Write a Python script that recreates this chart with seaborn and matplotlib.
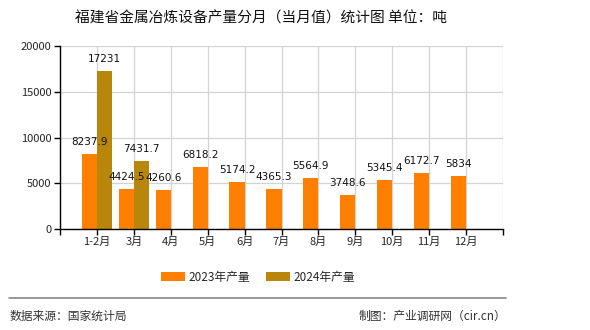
import numpy as np
import pandas as pd
import matplotlib
matplotlib.use("Agg")
import matplotlib.pyplot as plt
import seaborn as sns

months = ["1-2月", "3月", "4月", "5月", "6月", "7月", "8月", "9月", "10月", "11月", "12月"]
v2023 = [8237.9, 4424.5, 4260.6, 6818.2, 5174.2, 4365.3, 5564.9, 3748.6, 5345.4, 6172.7, 5834]
v2024 = [17231, 7431.7, np.nan, np.nan, np.nan, np.nan, np.nan, np.nan, np.nan, np.nan, np.nan]
series = ["2023年产量", "2024年产量"]
colors = ["#FF8000", "#B8860B"]
yticks = [0, 5000, 10000, 15000, 20000]

sns.set_style("white")
plt.rcParams["font.family"] = ["Noto Sans CJK SC", "DejaVu Sans"]

df = pd.DataFrame({
    "月份": months * 2,
    "产量": v2023 + v2024,
    "系列": [series[0]] * len(months) + [series[1]] * len(months),
})

fig = plt.figure(figsize=(5.9, 3.3), dpi=100)
ax = fig.add_axes([60 / 590, 1 - 229 / 330, (503 - 60) / 590, (229 - 46) / 330])

sns.barplot(data=df, x="月份", y="产量", hue="系列", order=months, hue_order=series,
            palette=colors, width=0.82, saturation=1, linewidth=0, edgecolor="none",
            ax=ax, legend=True)

for cont in ax.containers:
    for bar in cont:
        if bar is None:
            continue
        h = bar.get_height()
        if h is None or np.isnan(h):
            continue
        ax.annotate(f"{h:g}", (bar.get_x() + bar.get_width() / 2, h),
                    xytext=(0, 5), textcoords="offset points", ha="center", va="bottom",
                    fontsize=7.5, color="#111111", family=["DejaVu Sans"])

ax.set_xlim(-1, len(months))
ax.set_ylim(0, 20000)
ax.set_xticks(range(-1, len(months) + 1))
ax.set_xticklabels([""] + months + [""], fontsize=8)
ax.set_yticks(yticks)
ax.set_yticklabels([str(t) for t in yticks], fontsize=8)
ax.set_xlabel("")
ax.set_ylabel("")
ax.grid(True, color="#d3d3d3", linewidth=0.9)
ax.set_axisbelow(True)
for s in ["top", "right"]:
    ax.spines[s].set_visible(False)
for s in ["left", "bottom"]:
    ax.spines[s].set_color("#000000")
    ax.spines[s].set_linewidth(1)
ax.tick_params(axis="both", direction="out", length=4, width=1, color="#000000", pad=2)
ax.tick_params(axis="both", left=True, bottom=True)

handles, labels = ax.get_legend_handles_labels()
ax.legend(handles, labels, loc="center", bbox_to_anchor=(258 / 590, 1 - 277 / 330),
          bbox_transform=fig.transFigure, ncol=2, frameon=False, fontsize=8.5,
          handlelength=2.0, handleheight=0.9, columnspacing=1.4, handletextpad=0.3)

fig.text(261 / 590, 1 - 18 / 330, "福建省金属冶炼设备产量分月（当月值）统计图 单位：吨",
         ha="center", va="center", fontsize=10.6, color="#111111")
fig.add_artist(plt.Line2D([9 / 590, 506 / 590], [1 - 298 / 330, 1 - 298 / 330],
                          transform=fig.transFigure, color="#888888", linewidth=1.2))
fig.text(10 / 590, 1 - 316 / 330, "数据来源：国家统计局", ha="left", va="center",
         fontsize=8.5, color="#333333")
fig.text(506 / 590, 1 - 316 / 330, "制图：产业调研网（cir.cn）", ha="right", va="center",
         fontsize=8.5, color="#333333")

fig.savefig("out.png", dpi=100)
